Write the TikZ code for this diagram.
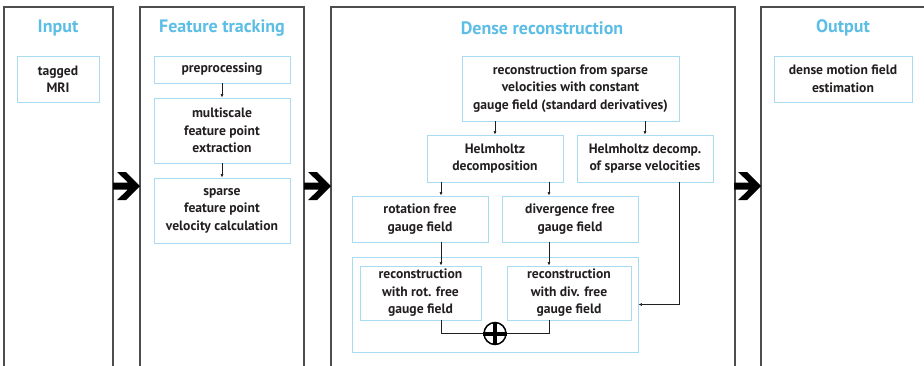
\documentclass[tikz,border=0pt]{standalone}
\usepackage{fontspec}
\setmainfont{PT Sans}
\usepackage{xcolor}
\usepackage{tikz}
\usetikzlibrary{calc,arrows.meta,positioning}

\definecolor{titleblue}{HTML}{5CBDE5}
\definecolor{boxblue}{HTML}{A9DCF0}
\definecolor{panelgray}{HTML}{4D4D4D}
\definecolor{inkblack}{HTML}{231F20}

\newcommand{\boxfont}{\fontsize{13.6}{17.5}\selectfont\bfseries}
\newcommand{\titlefont}{\fontsize{18}{20}\selectfont\bfseries}

\begin{document}
\begin{tikzpicture}[x=1pt, y=-1pt, >={Latex[length=3.5pt,width=3pt]},
    panel/.style={draw=panelgray, line width=1.2pt},
    title/.style={text=titleblue, font=\titlefont, inner sep=0pt},
    stage/.style={draw=boxblue, line width=0.9pt, align=center, font=\boxfont, text=inkblack, inner sep=0pt},
    link/.style={draw=inkblack, line width=0.6pt}]

    \useasboundingbox (0,0) rectangle (924,365);
    \clip (0,0) rectangle (924,365);

    % panels, open at the bottom
    \draw [panel] (4,7) rectangle (113,380);
    \draw [panel] (140,7) rectangle (304,380);
    \draw [panel] (331,7) rectangle (735,380);
    \draw [panel] (761,7) rectangle (940,380);

    \node [title] (tin)    at (58,28)  {Input};
    \node [title] (tfeat)  at (222,28) {Feature tracking};
    \node [title] (tdense) at (542,28) {Dense reconstruction};
    \node [title] (tout)   at (843,28) {Output};

    % big arrows between the panels
    \foreach \x in {113,304,734}{
      \begin{scope}[shift={(\x,186)}]
        \fill [black] (0,-3.5) -- (15,-3.5) -- (4,-14) -- (13,-14) -- (27,0)
                      -- (13,14) -- (4,14) -- (15,3.5) -- (0,3.5) -- cycle;
      \end{scope}
    }

    % input
    \node [stage, minimum width=82, minimum height=46] (mri) at (58,79) {tagged\\MRI};

    % feature tracking
    \node [stage, minimum width=136, minimum height=27] (prep)   at (222,69.5)  {preprocessing};
    \node [stage, minimum width=136, minimum height=65] (multi)  at (222,130.5) {multiscale\\feature point\\extraction};
    \node [stage, minimum width=136, minimum height=65] (sparse) at (222,210.5) {sparse\\feature point\\velocity calculation};

    \draw [link,->] (prep) -- (multi);
    \draw [link,->] (multi) -- (sparse);

    % dense reconstruction
    \node [stage, minimum width=217, minimum height=65] (recon)  at (570.5,88.5) {reconstruction from sparse\\velocities with constant\\gauge field (standard derivatives)};
    \node [stage, minimum width=136, minimum height=47] (helm)   at (495,158.5) {Helmholtz\\decomposition};
    \node [stage, minimum width=136, minimum height=47] (helmsp) at (645,158.5) {Helmholtz decomp.\\of sparse velocities};
    \node [stage, minimum width=136, minimum height=46] (rotfree) at (420,219) {rotation free\\gauge field};
    \node [stage, minimum width=136, minimum height=46] (divfree) at (570,219) {divergence free\\gauge field};

    \node [stage, minimum width=286, minimum height=95] (group)  at (495,304.5) {};
    \node [stage, minimum width=121, minimum height=54] (recrot) at (420.5,293) {reconstruction\\with rot. free\\gauge field};
    \node [stage, minimum width=124, minimum height=54] (recdiv) at (569,293)   {reconstruction\\with div. free\\gauge field};

    \node [circle, draw=black, line width=1.5pt, minimum size=22, inner sep=0pt] (sum) at (495,333.5) {};
    \draw [black, line width=4pt] (sum.north) -- (sum.south);
    \draw [black, line width=4pt] (sum.west) -- (sum.east);

    \coordinate (lx) at (441,0);
    \coordinate (rx) at (549,0);
    \coordinate (sx) at (679,0);

    \draw [link,->] (recon.south -| helm) -- (helm);
    \draw [link,->] (recon.south -| helmsp) -- (helmsp);
    \draw [link,->] (helm.south -| lx) -- (rotfree.north -| lx);
    \draw [link,->] (helm.south -| rx) -- (divfree.north -| rx);
    \draw [link,->] (rotfree.south -| lx) -- (recrot.north -| lx);
    \draw [link,->] (divfree.south -| rx) -- (recdiv.north -| rx);
    \draw [link] (recrot.south -| lx) |- (sum.west);
    \draw [link] (recdiv.south -| rx) |- (sum.east);
    \draw [link,->] (helmsp.south -| sx) |- (group.east);

    % output
    \node [stage, minimum width=138, minimum height=46] (out) at (843,79) {dense motion field\\estimation};

\end{tikzpicture}
\end{document}
